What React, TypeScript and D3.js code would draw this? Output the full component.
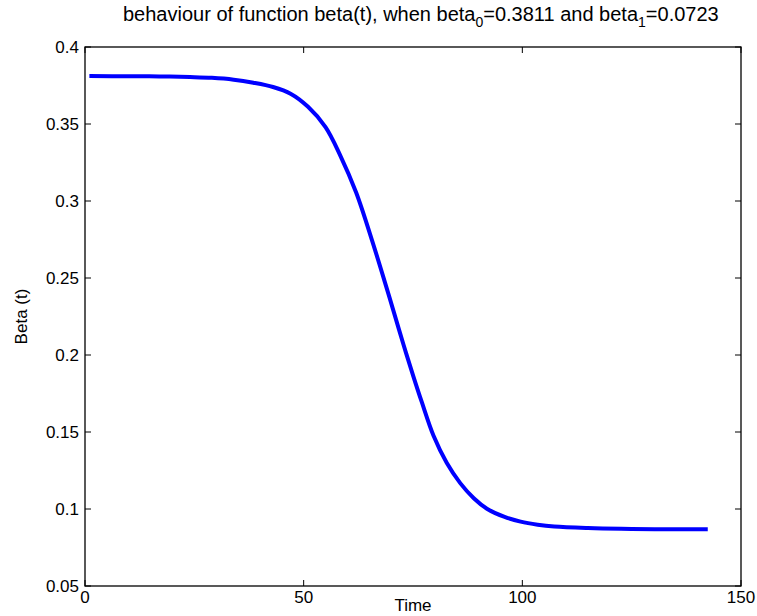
import React from "react";
import * as d3 from "d3";

const timeValues = [1, 10, 17, 24, 29, 34, 38.5, 43, 47, 51, 55, 58.3, 62, 65.9, 68.6, 70.5, 72.8, 75.1, 77, 79.7, 82.7, 85.8, 88.9, 91.9, 95.8, 99.6, 103.5, 107.3, 115, 122.6, 130.3, 142.4];
const betaValues = [0.3811, 0.3810, 0.3809, 0.3805, 0.3800, 0.3788, 0.3768, 0.3740, 0.3697, 0.3612, 0.3480, 0.3300, 0.3055, 0.2720, 0.2470, 0.2290, 0.2070, 0.1860, 0.1695, 0.1475, 0.1300, 0.1168, 0.1070, 0.1002, 0.0950, 0.0918, 0.0898, 0.0886, 0.0876, 0.0871, 0.0869, 0.0868];
const xTicks = [0, 50, 100, 150];
const yTicks = [0.05, 0.1, 0.15, 0.2, 0.25, 0.3, 0.35, 0.4];
const yTickLabels = ["0.05", "0.1", "0.15", "0.2", "0.25", "0.3", "0.35", "0.4"];

const W = 757, H = 616;
const L = 85, R = 741, T = 47, B = 586;
const FONT = "'Liberation Sans', Arial, Helvetica, sans-serif";

export default function App() {
  const x = d3.scaleLinear().domain([0, 150]).range([L, R]);
  const y = d3.scaleLinear().domain([0.05, 0.4]).range([B, T]);
  const data = timeValues.map((t, i) => [t, betaValues[i]] as [number, number]);
  const line = d3.line<[number, number]>().x(d => x(d[0])).y(d => y(d[1])).curve(d3.curveCatmullRom.alpha(0.5));
  const tk = 6;
  return (
    <svg width={W} height={H} style={{ position: "absolute", left: 0, top: 0, background: "#fff" }} fontFamily={FONT}>
      <rect x={0} y={0} width={W} height={H} fill="#fff" />
      <path d={line(data) || ""} fill="none" stroke="#0000ff" strokeWidth={4} />
      <rect x={L} y={T} width={R - L} height={B - T} fill="none" stroke="#000" strokeWidth={1.3} />
      {xTicks.map(t => (
        <g key={"x" + t}>
          <line x1={x(t)} x2={x(t)} y1={B} y2={B - tk} stroke="#000" />
          <line x1={x(t)} x2={x(t)} y1={T} y2={T + tk} stroke="#000" />
          <text x={x(t)} y={B + 17} textAnchor="middle" fontSize={17}>{t}</text>
        </g>
      ))}
      {yTicks.map((v, i) => (
        <g key={"y" + i}>
          <line x1={L} x2={L + tk} y1={y(v)} y2={y(v)} stroke="#000" />
          <line x1={R} x2={R - tk} y1={y(v)} y2={y(v)} stroke="#000" />
          <text x={L - 6} y={y(v) + 6} textAnchor="end" fontSize={17}>{yTickLabels[i]}</text>
        </g>
      ))}
      <text x={(L + R) / 2} y={611} textAnchor="middle" fontSize={17}>Time</text>
      <text transform={`translate(27, ${(T + B) / 2}) rotate(-90)`} textAnchor="middle" fontSize={17}>Beta (t)</text>
      <text x={123} y={21} fontSize={20}>
        behaviour of function beta(t), when beta<tspan fontSize={14} dy={6}>0</tspan><tspan dy={-6}>=0.3811 and beta</tspan><tspan fontSize={14} dy={6}>1</tspan><tspan dy={-6}>=0.0723</tspan>
      </text>
    </svg>
  );
}
